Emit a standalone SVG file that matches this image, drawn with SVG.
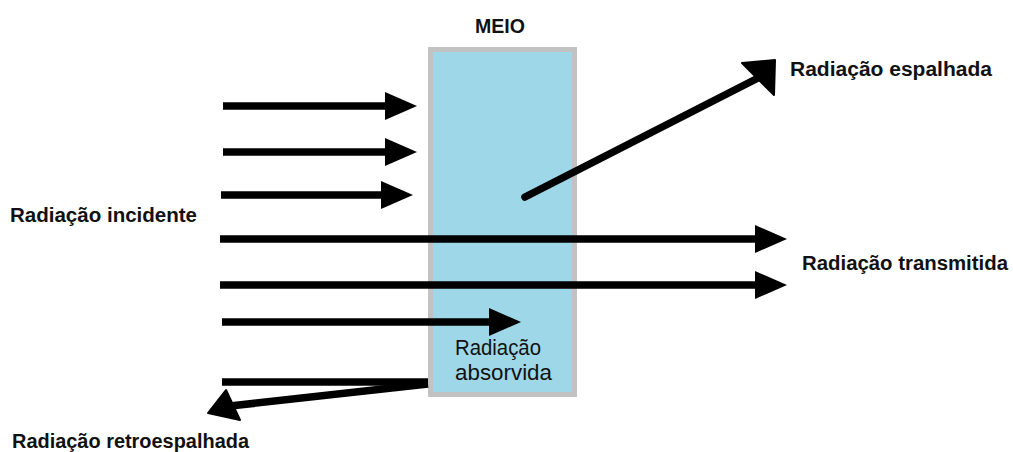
<svg xmlns="http://www.w3.org/2000/svg" width="1013" height="452" viewBox="0 0 1013 452">
<style>
.lbl{font-family:"Liberation Sans",Arial,sans-serif;font-size:20px;font-weight:bold;fill:#111}
.abs{font-family:"Liberation Sans",Arial,sans-serif;font-size:22px;fill:#111}
.ln{stroke:#000;stroke-width:7.5;fill:none}
.hd{fill:#000;stroke:#000;stroke-width:2;stroke-linejoin:round}
</style>
<defs>
<marker id="ah" viewBox="0 0 32 28" refX="2" refY="14" markerWidth="32" markerHeight="28" markerUnits="userSpaceOnUse" orient="auto">
<path d="M0,0 L32,14 L0,28 Z" fill="#000"/>
</marker>
</defs>
<rect width="1013" height="452" fill="#fff"/>
<g id="meio">
<rect x="430.5" y="49.5" width="144" height="345" fill="#9ed8e8" stroke="#c2c2c2" stroke-width="5"/>
<text class="lbl" x="475" y="33" textLength="50" lengthAdjust="spacingAndGlyphs">MEIO</text>
</g>
<g id="incidente"><text class="lbl" x="10" y="222" textLength="187" lengthAdjust="spacingAndGlyphs">Radiação incidente</text></g>
<g id="espalhada"><text class="lbl" x="790" y="76" textLength="202" lengthAdjust="spacingAndGlyphs">Radiação espalhada</text></g>
<g id="transmitida"><text class="lbl" x="802" y="270" textLength="206" lengthAdjust="spacingAndGlyphs">Radiação transmitida</text></g>
<g id="absorvida">
<text class="abs" x="455" y="355" textLength="86" lengthAdjust="spacingAndGlyphs">Radiação</text>
<text class="abs" x="455" y="380" textLength="97" lengthAdjust="spacingAndGlyphs">absorvida</text>
</g>
<g id="retroespalhada"><text class="lbl" x="12" y="448" textLength="237" lengthAdjust="spacingAndGlyphs">Radiação retroespalhada</text></g>
<g id="connectors">
<line class="ln" x1="223" y1="106" x2="387" y2="106" marker-end="url(#ah)"/>
<line class="ln" x1="223" y1="152" x2="387" y2="152" marker-end="url(#ah)"/>
<line class="ln" x1="221" y1="195" x2="383" y2="195" marker-end="url(#ah)"/>
<line class="ln" x1="220" y1="239" x2="757" y2="239" marker-end="url(#ah)"/>
<line class="ln" x1="220" y1="285" x2="757" y2="285" marker-end="url(#ah)"/>
<line class="ln" x1="222" y1="322" x2="491" y2="322" marker-end="url(#ah)"/>
<line class="ln" x1="525" y1="197" x2="760" y2="77" stroke-linecap="round"/>
<polygon class="hd" points="742,63 775,60 774,95"/>
<line class="ln" x1="222" y1="382" x2="428" y2="382"/>
<line class="ln" x1="428" y1="384" x2="230" y2="406"/>
<polygon class="hd" points="208,413 226,390 240,420"/>
</g>
</svg>
